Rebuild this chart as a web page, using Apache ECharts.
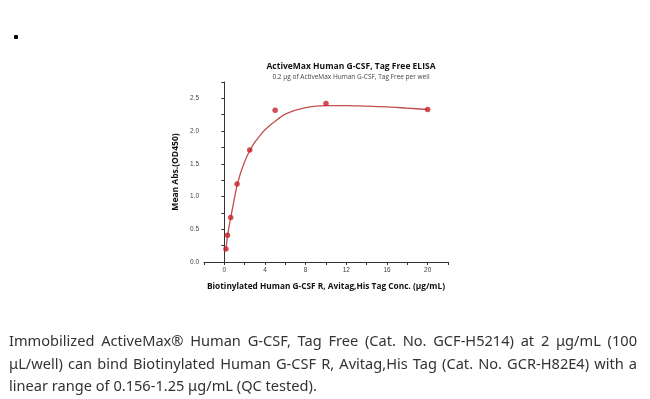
<!DOCTYPE html>
<html>
<head>
<meta charset="utf-8">
<script src="https://cdn.jsdelivr.net/npm/echarts@6/dist/echarts.min.js"></script>
<style>
  body { margin: 0; background: #fff; }
  #wrap { position: relative; width: 650px; height: 399px; overflow: hidden; }
  #showChart { position: absolute; left: 0; top: 0; width: 650px; height: 399px; }
  #bullet { position: absolute; left: 14px; top: 35px; width: 4px; height: 4px; border-radius: 1px; background: #000; }
  #note { position: absolute; left: 9px; top: 329px; width: 628px;
          font: 14.6px "Noto Sans", "DejaVu Sans", sans-serif; color: #333; line-height: 22.5px; }
  #note .j { text-align: justify; text-align-last: justify; white-space: nowrap; }
  #note div { white-space: nowrap; }
</style>
</head>
<body>
<div id="wrap">
  <div id="showChart"></div>
  <div id="bullet"></div>
  <div id="note">
    <div class="j">Immobilized ActiveMax® Human G-CSF, Tag Free (Cat. No. GCF-H5214) at 2 μg/mL (100</div>
    <div class="j">μL/well) can bind Biotinylated Human G-CSF R, Avitag,His Tag (Cat. No. GCR-H82E4) with a</div>
    <div>linear range of 0.156-1.25 μg/mL (QC tested).</div>
  </div>
</div>
<script>
// measured points (conc in ug/mL, OD450)
var conc = [0.156, 0.3125, 0.625, 1.25, 2.5, 5, 10, 20];
var od450 = [0.20, 0.41, 0.68, 1.19, 1.71, 2.32, 2.42, 2.33];

// fitted curve
var fitX = [0.156, 0.3125, 0.5, 0.625, 0.8, 1, 1.25, 1.5, 1.8, 2.1, 2.5, 3, 3.5, 4, 4.5, 5, 5.5, 6, 7, 8, 9, 10, 12, 14, 16, 18, 20];
var fitY = [0.18, 0.40, 0.57, 0.67, 0.82, 0.98, 1.17, 1.31, 1.45, 1.57, 1.70, 1.83, 1.93, 2.02, 2.09, 2.15, 2.21, 2.26, 2.32, 2.36, 2.38, 2.39, 2.39, 2.38, 2.37, 2.35, 2.33];

var xLabels = [0, 4, 8, 12, 16, 20];

function showChart(){
    var dom = document.getElementById("showChart");
    var myChart = echarts.init(dom);

    var pts = conc.map(function (c, i) { return [c, od450[i]]; });
    var fit = fitX.map(function (c, i) { return [c, fitY[i]]; });

    var option = {
        animation: false,
        title: {
            text: 'ActiveMax Human G-CSF, Tag Free ELISA',
            subtext: '0.2 μg of ActiveMax Human G-CSF, Tag Free per well',
            left: 346,
            textAlign: 'center',
            top: 57,
            itemGap: 3,
            textStyle: { fontFamily: 'Open Sans', fontSize: 8.5, fontWeight: 'bold', color: '#111' },
            subtextStyle: { fontFamily: 'Open Sans', fontSize: 6.5, color: '#444' }
        },
        grid: { left: 204, right: 202, top: 82, bottom: 137 },
        xAxis: {
            type: 'value',
            min: -2,
            max: 22,
            interval: 2,
            name: 'Biotinylated Human G-CSF R, Avitag,His Tag Conc. (μg/mL)',
            nameLocation: 'middle',
            nameGap: 21,
            nameTextStyle: { fontFamily: 'Open Sans', fontSize: 8.3, fontWeight: 'bold', color: '#111' },
            axisLine: { lineStyle: { color: '#333', width: 1 } },
            axisTick: { length: 3, lineStyle: { color: '#333' } },
            axisLabel: {
                fontSize: 6.5, color: '#444', margin: 5,
                formatter: function (v) { return xLabels.indexOf(v) >= 0 ? String(v) : ''; }
            },
            splitLine: { show: false }
        },
        yAxis: {
            type: 'value',
            min: 0,
            max: 2.75,
            interval: 0.25,
            name: 'Mean Abs.(OD450)',
            nameLocation: 'middle',
            nameGap: 24,
            nameTextStyle: { fontFamily: 'Open Sans', fontSize: 8.5, fontWeight: 'bold', color: '#111' },
            axisLine: { show: true, lineStyle: { color: '#333', width: 1 } },
            axisTick: { show: true, length: 3, lineStyle: { color: '#333' } },
            axisLabel: {
                fontSize: 6.5, color: '#444', margin: 5,
                formatter: function (v) {
                    var r = Math.round(v * 100);
                    return (r % 50 === 0 && r <= 250) ? v.toFixed(1) : '';
                }
            },
            splitLine: { show: false }
        },
        series: [{
            name: 'fit',
            type: 'line',
            data: fit,
            smooth: 0.3,
            showSymbol: false,
            lineStyle: { color: '#c0504d', width: 1.3 },
            z: 2
        }, {
            name: 'data',
            type: 'scatter',
            data: pts,
            symbol: 'circle',
            symbolSize: 5.5,
            itemStyle: { color: '#c8202a' },
            z: 3
        }]
    };

    if (option && typeof option === "object") {
        myChart.setOption(option, true);
    }

    window.addEventListener("resize", function () {
        myChart.resize();
    })
}
showChart();
</script>
</body>
</html>
